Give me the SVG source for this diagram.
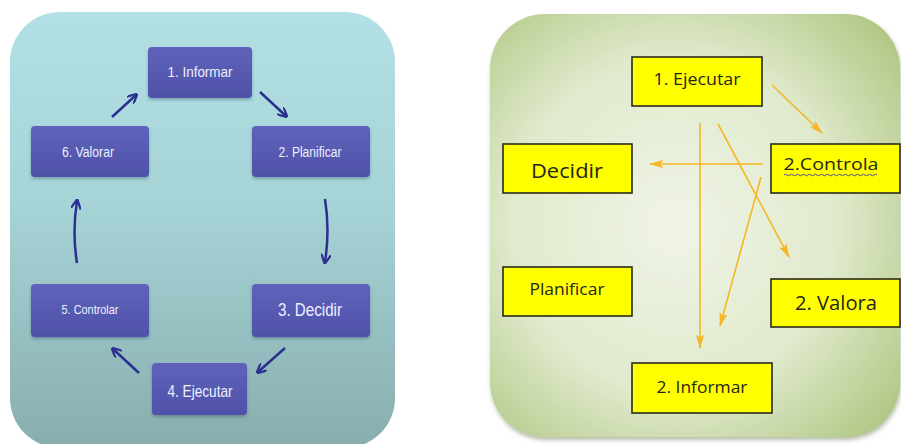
<svg xmlns="http://www.w3.org/2000/svg" width="901" height="444" viewBox="0 0 901 444">
<defs>
<linearGradient id="gBlue" x1="0" y1="0" x2="0" y2="1">
<stop offset="0" stop-color="#b2e0e4"/>
<stop offset="0.45" stop-color="#a6d3d6"/>
<stop offset="1" stop-color="#88adae"/>
</linearGradient>
<radialGradient id="gGreen" cx="0.45" cy="0.5" r="0.72">
<stop offset="0" stop-color="#f0f4e6"/>
<stop offset="0.55" stop-color="#e0eacd"/>
<stop offset="1" stop-color="#adc47e"/>
</radialGradient>
<linearGradient id="gNode" x1="0" y1="0" x2="0" y2="1">
<stop offset="0" stop-color="#5f62ba"/>
<stop offset="1" stop-color="#4f52a8"/>
</linearGradient>
<filter id="sh" x="-20%" y="-20%" width="140%" height="150%">
<feDropShadow dx="0" dy="2" stdDeviation="1.5" flood-color="#30506a" flood-opacity="0.4"/>
</filter>
<filter id="psh" x="-5%" y="-5%" width="110%" height="110%">
<feDropShadow dx="1" dy="3" stdDeviation="2" flood-color="#6c7d55" flood-opacity="0.5"/>
</filter>
<marker id="navy" viewBox="0 0 10 10" refX="8" refY="5" markerWidth="4" markerHeight="4" orient="auto" markerUnits="strokeWidth">
<path d="M0,0 L10,5 L0,10" fill="none" stroke="#2b2f8f" stroke-width="2.2"/>
</marker>
<marker id="gold" viewBox="0 0 14 8" refX="13" refY="4" markerWidth="9" markerHeight="5.2" orient="auto" markerUnits="strokeWidth">
<path d="M0,0 L14,4 L0,8 L3,4 Z" fill="#f5b623"/>
</marker>
</defs>
<style>
.panelL{fill:url(#gBlue)}
.panelR{fill:url(#gGreen)}
.bn{fill:url(#gNode);filter:url(#sh)}
.bt{font-family:"Liberation Sans Narrow","Liberation Sans",sans-serif;fill:#eef0ff;text-anchor:middle}
.yn{fill:#ffff00;stroke:#2a2a1a;stroke-width:1.6}
.yt{font-family:"Open Sans","Liberation Sans",sans-serif;fill:#262618;text-anchor:middle}
.na{fill:none;stroke:#2b2f8f;stroke-width:2.5;marker-end:url(#navy)}
.ga{fill:none;stroke:#f5b623;stroke-width:1.6;marker-end:url(#gold)}
</style>
<rect width="901" height="444" fill="#ffffff"/>
<rect class="panelL" x="10" y="12" width="385" height="436" rx="50"/>
<rect class="panelR" x="490" y="14" width="410" height="423" rx="55" filter="url(#psh)"/>

<g id="n-informar"><rect class="bn" x="148" y="47" width="104" height="51" rx="4"/><text class="bt" x="200" y="77" font-size="15" textLength="65" lengthAdjust="spacingAndGlyphs">1. Informar</text></g>
<g id="n-planificar"><rect class="bn" x="252" y="126" width="118" height="51" rx="4"/><text class="bt" x="310" y="157" font-size="14" textLength="63" lengthAdjust="spacingAndGlyphs">2. Planificar</text></g>
<g id="n-decidir"><rect class="bn" x="252" y="284" width="118" height="53" rx="4"/><text class="bt" x="310" y="316" font-size="19" textLength="64" lengthAdjust="spacingAndGlyphs">3. Decidir</text></g>
<g id="n-ejecutar"><rect class="bn" x="152" y="363" width="95" height="52" rx="4"/><text class="bt" x="200" y="397" font-size="17" textLength="65" lengthAdjust="spacingAndGlyphs">4. Ejecutar</text></g>
<g id="n-controlar"><rect class="bn" x="31" y="284" width="118" height="53" rx="4"/><text class="bt" x="90" y="314" font-size="13" textLength="57" lengthAdjust="spacingAndGlyphs">5. Controlar</text></g>
<g id="n-valorar"><rect class="bn" x="31" y="126" width="118" height="51" rx="4"/><text class="bt" x="88" y="157" font-size="14" textLength="52" lengthAdjust="spacingAndGlyphs">6. Valorar</text></g>

<g id="y-ejecutar"><rect class="yn" x="632" y="57" width="130" height="49"/><text class="yt" x="697" y="85" font-size="16" textLength="87" lengthAdjust="spacingAndGlyphs">1. Ejecutar</text></g>
<g id="y-decidir"><rect class="yn" x="503" y="144" width="129" height="49"/><text class="yt" x="567" y="178" font-size="20" textLength="72" lengthAdjust="spacingAndGlyphs">Decidir</text></g>
<g id="y-controla"><rect class="yn" x="771" y="144" width="129" height="49"/><text class="yt" x="831" y="170" font-size="17" textLength="95" lengthAdjust="spacingAndGlyphs">2.Controla</text><path d="M784,175 q1.5,-1.5 3,0 t3,0 t3,0 t3,0 t3,0 t3,0 t3,0 t3,0 t3,0 t3,0 t3,0 t3,0 t3,0 t3,0 t3,0 t3,0 t3,0 t3,0 t3,0 t3,0 t3,0 t3,0 t3,0 t3,0 t3,0 t3,0 t3,0 t3,0 t3,0 t3,0 t3,0" fill="none" stroke="#3a3aa8" stroke-width="0.9"/></g>
<g id="y-planificar"><rect class="yn" x="503" y="267" width="129" height="49"/><text class="yt" x="567" y="295" font-size="16" textLength="75" lengthAdjust="spacingAndGlyphs">Planificar</text></g>
<g id="y-valora"><rect class="yn" x="771" y="279" width="129" height="48"/><text class="yt" x="836" y="310" font-size="20" textLength="82" lengthAdjust="spacingAndGlyphs">2. Valora</text></g>
<g id="y-informar"><rect class="yn" x="632" y="363" width="140" height="50"/><text class="yt" x="702" y="393" font-size="17" textLength="91" lengthAdjust="spacingAndGlyphs">2. Informar</text></g>

<g id="connectors">
<path class="na" d="M260,92 L286,116"/>
<path class="na" d="M325,199 Q330,230 325,262"/>
<path class="na" d="M285,348 L258,372"/>
<path class="na" d="M139,373 L113,349"/>
<path class="na" d="M77,263 Q72,232 77,201"/>
<path class="na" d="M112,117 L136,95"/>
<path class="ga" d="M772,85 L822,133"/>
<path class="ga" d="M763,164 L650,164"/>
<path class="ga" d="M700,123 L700,348"/>
<path class="ga" d="M718,124 L789,257"/>
<path class="ga" d="M761,177 L720,326"/>
</g>
</svg>
